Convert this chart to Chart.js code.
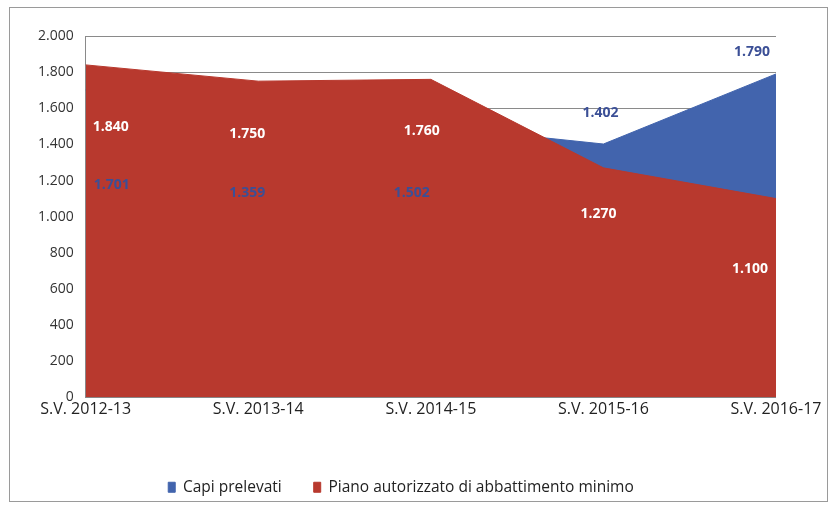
<html>
<head>
	<title>Capi prelevati</title>
	<style>
		body { margin: 0; background: #fff; }
		#frame { position: absolute; left: 9px; top: 7px; width: 819px; height: 495px; border: 1px solid #9a9a9a; box-sizing: border-box; }
		#holder { position: absolute; left: 0; top: 0; width: 831px; height: 508px; }
	</style>
</head>
<body>
	<div id="frame"></div>
	<div id="holder"><canvas id="chart" width="831" height="508"></canvas></div>
	<script src="https://cdn.jsdelivr.net/npm/chart.js"></script>
	<script>
		const seasons = ['S.V. 2012-13', 'S.V. 2013-14', 'S.V. 2014-15', 'S.V. 2015-16', 'S.V. 2016-17'];
		const capiPrelevati = [1701, 1359, 1502, 1402, 1790];
		const pianoMinimo = [1840, 1750, 1760, 1270, 1100];
		const yTicks = [0, 200, 400, 600, 800, 1000, 1200, 1400, 1600, 1800, 2000];

		const FONT = '"Open Sans", "Liberation Sans", sans-serif';

		function fmt(v) {
			return String(v).replace(/\B(?=(\d{3})+(?!\d))/g, '.');
		}

		// value labels, placed roughly like the spreadsheet did
		const labelPlugin = {
			id: 'valueLabels',
			afterDatasetsDraw(chart, args, opts) {
				const ctx = chart.ctx;
				const xs = chart.scales.x, ys = chart.scales.y;
				ctx.save();
				ctx.font = 'bold 14px ' + FONT;
				ctx.textAlign = 'center';
				ctx.textBaseline = 'middle';
				chart.data.datasets.forEach((ds, di) => {
					const off = opts.offsets[di];
					ds.data.forEach((v, i) => {
						const x = xs.getPixelForValue(i) + off[i][0];
						const y = ys.getPixelForValue(v) + off[i][1];
						ctx.fillStyle = opts.colors[di];
						ctx.fillText(fmt(v), x, y);
					});
				});
				ctx.restore();
			}
		};

		new Chart(document.getElementById('chart'), {
			type: 'line',
			data: {
				labels: seasons,
				datasets: [{
					label: 'Capi prelevati',
					data: capiPrelevati,
					fill: 'origin',
					backgroundColor: '#4264ad',
					borderColor: '#4264ad',
					borderWidth: 1,
					pointRadius: 0,
					tension: 0,
					order: 1
				}, {
					label: 'Piano autorizzato di abbattimento minimo',
					data: pianoMinimo,
					fill: 'origin',
					backgroundColor: '#b8392e',
					borderColor: '#b8392e',
					borderWidth: 1,
					pointRadius: 0,
					tension: 0,
					order: 0
				}]
			},
			options: {
				responsive: false,
				animation: false,
				layout: { padding: { left: 26, right: 55, top: 36, bottom: 3 } },
				scales: {
					x: {
						offset: false,
						grid: { display: false },
						border: { display: false },
						afterFit: axis => { axis.height += 33; },
						ticks: {
							color: '#222',
							font: { size: 16, family: FONT },
							maxRotation: 0,
							padding: -5
						}
					},
					y: {
						min: 0,
						max: 2000,
						afterBuildTicks: axis => { axis.ticks = yTicks.map(v => ({ value: v })); },
						grid: { color: '#8a8a8a', lineWidth: 1, drawTicks: false },
						border: { display: true, color: '#8a8a8a' },
						ticks: {
							color: '#333',
							font: { size: 14, family: FONT },
							padding: 12,
							callback: v => fmt(v)
						}
					}
				},
				plugins: {
					legend: {
						position: 'bottom',
						labels: {
							boxWidth: 7,
							boxHeight: 10,
							padding: 32,
							color: '#222',
							font: { size: 15.5, family: FONT },
							sort: (a, b) => a.datasetIndex - b.datasetIndex
						}
					},
					tooltip: { enabled: false },
					valueLabels: {
						colors: ['#3b4f96', '#ffffff'],
						offsets: [
							[[26, 95], [-11, 41], [-19, 67], [-3, -31], [-24, -22]],
							[[25, 62], [-11, 53], [-9, 52], [-5, 46], [-26, 70]]
						]
					}
				}
			},
			plugins: [labelPlugin]
		});
	</script>
</body>
</html>
